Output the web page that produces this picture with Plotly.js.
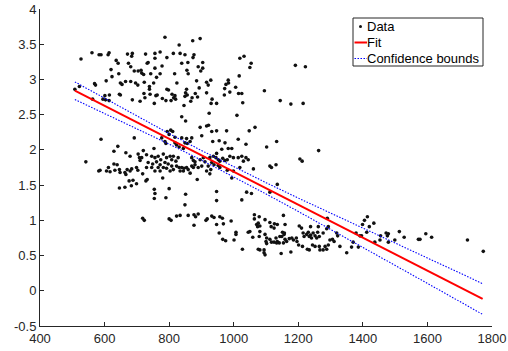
<!DOCTYPE html>
<html>
<head>
<meta charset="utf-8">
<script src="https://cdn.plot.ly/plotly-3.0.1.min.js"></script>
<style>html,body{margin:0;padding:0;background:#fff;}#chart{width:508px;height:351px;}</style>
</head>
<body>
<div id="chart"></div>
<script>
// Scatter data (x, y)
const dataX = [
 787,831,527,561,583,589,611,614,671,686,684,636,642,727,756,772,756,793,813,834,849,839,858,735,732,674,681,620,644,692,704,713,715,721,743,756,761,772,778,817,855,859,623,605,569,572,649,654,665,681,696,703,723,752,739,739,722,725,741,793,798,824,854,851,849,856,809,814,820,818,790,806,759,763,646,649,601,615,614,603,595,563,508,522,686,710,754,846,839,851,779,
 873,896,877,874,904,890,904,898,885,916,921,929,893,881,871,867,888,916,933,930,947,924,896,916,922,972,971,976,983,984,988,1006,1017,1015,1025,1028,1010,1019,1032,1054,1050,1066,1095,1144,1177,1215,1191,1222,
 589,692,641,629,666,679,542,586,582,612,606,617,629,639,632,648,646,663,670,679,684,666,699,703,704,708,676,688,646,663,683,699,728,732,754,756,790,780,851,754,
 1048,1061,1102,1133,1112,1117,1131,1135,1205,1212,1263,947,1040,1055,1112,994,887,1038,
 794,805,811,800,818,777,787,790,839,854,870,849,856,865,818,823,831,844,932,947,978,901,955,973,935,1014,983,994,963,947,720,753,730,746,756,766,774,782,792,803,808,813,821,828,715,710,735,749,761,772,787,797,808,730,746,766,782,792,756,772,803,813,823,831,839,846,854,834,844,859,870,875,865,870,875,880,896,906,911,926,937,945,952,957,966,973,980,988,999,1014,1025,1038,1045,880,890,901,921,932,939,952,957,916,929,980,999,1019,1030,800,926,718,
 849,718,723,800,806,823,834,859,
 947,1025,877,882,890,877,914,918,932,939,957,965,947,968,992,955,966,975,1007,1007,1001,1027,1045,1050,1059,1064,1064,1079,1097,1112,1071,1076,1081,1074,1081,1079,1097,1102,1100,1112,1117,1125,1131,1135,1143,1141,1149,1156,1159,1154,1164,1172,1180,1185,1194,1196,1081,1094,1094,1097,1147,1177,1126,1135,1116,1125,1154,1159,1151,1157,1203,1210,1215,1218,1226,1231,1234,1238,1241,1246,1252,1257,1260,1265,1238,1262,1201,1213,1228,1234,1244,1252,1265,1267,1277,1283,1288,1293,1298,1306,1311,1277,1288,1293,1290,1319,1322,1102,1133,1076,
 1414,1405,1399,1420,1434,1412,1379,1391,1396,1370,1365,1350,1386,1329,1437,1453,1455,1472,1476,1479,1479,1499,1513,1528,1572,1577,1595,1613,1724,1773
];
const dataY = [
 3.60,3.49,3.29,3.38,3.35,3.35,3.35,3.38,3.36,3.37,3.33,3.27,3.23,3.36,3.37,3.39,3.30,3.31,3.37,3.37,3.35,3.23,3.24,3.24,3.23,3.23,3.18,3.14,3.08,3.12,3.12,3.13,3.09,3.07,3.08,3.16,3.03,3.08,3.19,3.08,3.13,3.08,3.04,2.98,2.94,2.92,2.95,2.93,2.97,2.97,2.95,2.92,2.96,2.95,2.90,2.86,2.80,2.74,2.79,2.86,2.85,2.95,2.86,2.81,2.76,2.78,2.79,2.74,2.72,2.77,2.70,2.70,2.77,2.78,2.79,2.78,2.77,2.78,2.70,2.71,2.72,2.72,2.86,2.90,2.71,2.69,2.66,2.63,2.47,2.41,2.73,
 3.55,3.58,3.35,3.31,3.24,3.18,3.16,3.12,2.98,2.96,2.92,2.99,2.88,2.80,2.74,2.69,2.75,2.81,2.72,2.66,2.66,2.52,2.32,2.34,2.35,2.87,2.78,2.93,2.99,2.95,2.82,2.89,3.05,2.80,2.80,2.67,2.49,3.30,3.33,3.23,3.17,2.32,2.84,2.70,2.65,2.66,3.20,3.18,
 2.15,2.17,2.05,1.98,1.96,1.91,1.83,1.71,1.70,1.75,1.70,1.69,1.80,1.79,1.71,1.68,1.72,1.68,1.72,1.70,1.73,1.65,1.75,1.71,1.94,1.89,1.56,1.57,1.46,1.47,1.49,1.52,1.56,1.58,1.44,1.38,1.32,1.60,1.37,1.31,
 2.27,1.73,2.04,2.12,1.77,1.75,1.79,1.51,1.87,1.84,1.99,1.41,1.40,1.38,1.40,1.60,1.58,2.08,
 2.26,2.28,2.26,2.22,2.18,2.17,2.12,2.09,2.17,2.16,2.17,2.10,2.09,2.12,2.10,2.07,2.04,2.02,2.26,2.27,2.27,2.20,2.13,2.10,2.12,2.15,2.02,2.02,2.01,1.95,1.99,2.02,1.93,1.91,1.89,1.91,1.86,1.94,1.89,1.91,1.86,1.91,1.84,1.89,1.89,1.85,1.82,1.80,1.83,1.79,1.82,1.80,1.77,1.75,1.75,1.75,1.75,1.74,1.70,1.70,1.70,1.72,1.77,1.75,1.75,1.74,1.75,1.70,1.70,1.72,1.77,1.75,1.67,1.89,1.85,1.83,1.86,1.89,1.83,1.89,1.91,1.89,1.86,1.84,1.88,1.85,1.86,1.91,1.89,1.89,1.91,1.89,1.86,1.79,1.75,1.77,1.77,1.82,1.79,1.78,1.75,1.70,1.72,1.71,1.70,1.75,1.84,1.45,1.66,1.66,
 1.22,1.03,1.00,1.02,1.00,1.06,1.07,1.07,
 1.28,1.29,1.08,1.05,1.09,0.93,1.00,1.02,1.06,1.04,1.05,1.03,0.94,0.95,0.99,0.82,0.73,0.71,0.83,0.80,0.72,0.59,0.83,0.84,0.76,1.08,1.02,1.05,1.01,0.97,0.94,0.96,0.92,0.91,0.84,0.77,0.80,0.75,0.70,0.73,0.69,0.69,0.75,0.70,0.77,0.68,0.77,0.80,0.73,0.68,0.70,0.74,0.75,0.72,0.75,0.70,0.58,0.58,0.54,0.51,0.53,0.55,0.95,0.94,0.91,0.89,1.07,0.94,0.83,0.82,0.92,0.89,0.82,0.77,0.80,0.83,0.77,0.79,0.75,0.82,0.78,0.75,0.83,0.77,0.91,0.91,0.65,0.63,0.59,0.58,0.65,0.63,0.63,0.58,0.58,0.63,0.59,0.65,0.72,0.73,0.70,0.82,0.88,0.91,1.03,0.82,0.78,0.67,0.68,0.59,
 1.05,1.00,0.94,0.91,0.96,0.83,0.82,0.78,0.78,0.69,0.62,0.54,0.62,0.63,0.69,0.72,0.78,0.82,0.78,0.81,0.69,0.72,0.84,0.76,0.73,0.73,0.81,0.76,0.72,0.56
];

// Fitted line (end points)
const fitX = [508, 1771];
const fitY = [2.84, -0.115];

// Confidence bounds read at several x positions
const boundX = [508, 600, 700, 800, 900, 1000, 1100, 1200, 1300, 1400, 1500, 1600, 1700, 1771];
const upperY = [2.965, 2.732, 2.480, 2.232, 1.991, 1.759, 1.535, 1.316, 1.101, 0.888, 0.676, 0.465, 0.254, 0.100];
const lowerY = [2.715, 2.518, 2.302, 2.082, 1.855, 1.619, 1.375, 1.126, 0.873, 0.618, 0.362, 0.105, -0.152, -0.335];

// Legend entries
const legendLabels = ['Data', 'Fit', 'Confidence bounds'];

// Axis ticks
const xTickVals = [400, 600, 800, 1000, 1200, 1400, 1600, 1800];
const yTickVals = [-0.5, 0, 0.5, 1, 1.5, 2, 2.5, 3, 3.5, 4];
const yTickText = ['-0.5', '0', '0.5', '1', '1.5', '2', '2.5', '3', '3.5', '4'];

const FONT = 'Liberation Sans, Arial, Helvetica, sans-serif';
const AX = '#262626';
const DOT_COLOR = '#111111', FIT_COLOR = '#ff0000', CB_COLOR = '#0000ff';
const CB_DASH = '1.5px,1.5px';

const traces = [
  {x: dataX, y: dataY, type: 'scatter', mode: 'markers', name: legendLabels[0],
   marker: {color: DOT_COLOR, size: 3.6}},
  {x: fitX, y: fitY, type: 'scatter', mode: 'lines', name: legendLabels[1],
   line: {color: FIT_COLOR, width: 2}},
  {x: boundX, y: upperY, type: 'scatter', mode: 'lines', name: legendLabels[2],
   line: {color: CB_COLOR, width: 1.1, dash: CB_DASH}},
  {x: boundX, y: lowerY, type: 'scatter', mode: 'lines', name: legendLabels[2],
   line: {color: CB_COLOR, width: 1.1, dash: CB_DASH}}
];

// Legend box in the MATLAB style (paper coordinates)
const M = {l: 40, r: 16, t: 9, b: 25};
const W = 508, H = 351;
const pw = W - M.l - M.r, ph = H - M.t - M.b;
const px = v => (v - M.l) / pw;           // pixel x -> paper x
const py = v => (H - M.b - v) / ph;       // pixel y -> paper y
const box = {x0: 353, x1: 483, y0: 18, y1: 66};
const rows = [26.5, 42.5, 58.5];
const symX0 = 354.5, symX1 = 367, textX = 366;

const shapes = [
  {type: 'rect', xref: 'paper', yref: 'paper', x0: px(box.x0), x1: px(box.x1), y0: py(box.y1), y1: py(box.y0),
   line: {color: AX, width: 1}, fillcolor: '#ffffff', layer: 'above'},
  {type: 'circle', xref: 'paper', yref: 'paper', x0: px(359), x1: px(362), y0: py(rows[0] + 1.5), y1: py(rows[0] - 1.5),
   line: {width: 0}, fillcolor: DOT_COLOR, layer: 'above'},
  {type: 'line', xref: 'paper', yref: 'paper', x0: px(symX0), x1: px(symX1), y0: py(rows[1]), y1: py(rows[1]),
   line: {color: FIT_COLOR, width: 2}, layer: 'above'},
  {type: 'line', xref: 'paper', yref: 'paper', x0: px(symX0), x1: px(symX1), y0: py(rows[2]), y1: py(rows[2]),
   line: {color: CB_COLOR, width: 1.1, dash: CB_DASH}, layer: 'above'}
];
const annotations = legendLabels.map((t, i) => ({
  text: t, xref: 'paper', yref: 'paper', x: px(textX), y: py(rows[i]),
  xanchor: 'left', yanchor: 'middle', showarrow: false, borderpad: 0,
  font: {family: FONT, size: 13, color: '#000000'}
}));

const layout = {
  width: W, height: H,
  margin: {l: M.l, r: M.r, t: M.t, b: M.b, pad: 0},
  paper_bgcolor: '#ffffff', plot_bgcolor: '#ffffff',
  font: {family: FONT, size: 13, color: AX},
  showlegend: false,
  shapes: shapes, annotations: annotations,
  xaxis: {range: [400, 1800], tickvals: xTickVals, ticks: 'inside', ticklen: 4, tickcolor: AX,
          showline: true, linecolor: AX, linewidth: 1, mirror: false, showgrid: false, zeroline: false,
          tickfont: {family: FONT, size: 13, color: AX}, fixedrange: true},
  yaxis: {range: [-0.5, 4], tickvals: yTickVals, ticktext: yTickText, ticks: 'inside', ticklen: 4, tickcolor: AX,
          showline: true, linecolor: AX, linewidth: 1, mirror: false, showgrid: false, zeroline: false,
          tickfont: {family: FONT, size: 13, color: AX}, fixedrange: true}
};

Plotly.newPlot('chart', traces, layout, {staticPlot: true, displayModeBar: false});
</script>
</body>
</html>
